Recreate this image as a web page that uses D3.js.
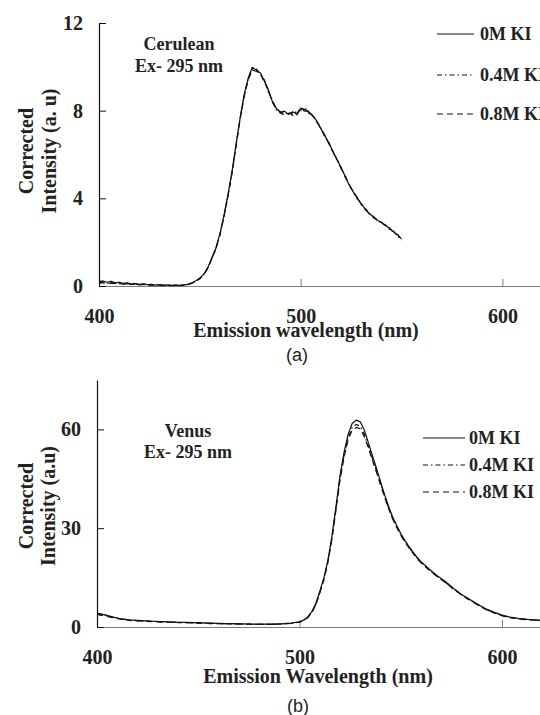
<!DOCTYPE html>
<html>
<head>
<meta charset="utf-8">
<title>KI quenching spectra</title>
<script src="https://d3js.org/d3.v7.min.js"></script>
<style>
  body { margin: 0; background: #fff; }
  svg { display: block; }
  .lbl { font-family: "Liberation Serif", "Times New Roman", serif; font-weight: bold; fill: #222; }
  .cap { font-family: "Liberation Sans", Arial, sans-serif; fill: #222; }
</style>
</head>
<body>
<svg width="540" height="715"></svg>
<script>
// ---- data ----
const seriesNames = ['0M KI', '0.4M KI', '0.8M KI'];
const xTicks = [400, 500, 600];

// (a) Cerulean, 400-550 nm
const wlCerulean = [400,402,404,406,408,410,412,414,416,418,
  420,422,424,426,428,430,432,434,436,438,
  440,442,444,446,448,450,452,454,456,458,
  460,462,464,466,468,470,472,474,476,478,
  480,482,484,486,488,490,492,494,496,498,
  500,502,504,506,508,510,512,514,516,518,
  520,522,524,526,528,530,532,534,536,538,
  540,542,544,546,548,550];
const cer0 = [0.20,0.23,0.17,0.21,0.14,0.17,0.12,0.14,0.09,0.11,
  0.08,0.10,0.06,0.07,0.04,0.06,0.03,0.05,0.03,0.04,
  0.03,0.05,0.08,0.14,0.24,0.36,0.55,0.85,1.30,1.75,
  2.40,3.25,4.20,5.25,6.50,7.70,8.75,9.50,9.98,9.85,
  9.72,9.35,8.95,8.40,8.10,7.92,7.98,7.82,7.95,7.85,
  8.12,8.05,7.95,7.78,7.52,7.18,6.85,6.52,6.12,5.78,
  5.40,5.02,4.62,4.30,4.02,3.75,3.52,3.30,3.16,3.00,
  2.90,2.76,2.63,2.47,2.33,2.15];
const cer04 = [0.15,0.18,0.13,0.16,0.12,0.13,0.10,0.11,0.08,0.09,
  0.06,0.08,0.05,0.06,0.04,0.05,0.03,0.04,0.02,0.03,
  0.03,0.04,0.07,0.13,0.22,0.34,0.53,0.83,1.27,1.72,
  2.36,3.20,4.15,5.20,6.45,7.65,8.70,9.45,9.90,9.92,
  9.65,9.40,8.85,8.48,8.02,7.88,7.80,7.95,7.78,7.98,
  8.02,8.15,7.88,7.80,7.48,7.20,6.80,6.55,6.08,5.80,
  5.36,5.05,4.58,4.33,3.98,3.78,3.48,3.33,3.12,3.03,
  2.86,2.79,2.58,2.50,2.28,2.10];
const cer08 = [0.12,0.15,0.11,0.13,0.10,0.11,0.08,0.09,0.07,0.08,
  0.05,0.07,0.04,0.05,0.03,0.04,0.02,0.03,0.02,0.03,
  0.02,0.04,0.06,0.12,0.21,0.33,0.52,0.82,1.25,1.70,
  2.35,3.18,4.12,5.18,6.42,7.62,8.66,9.42,9.85,9.80,
  9.68,9.30,8.90,8.38,8.06,7.95,7.85,7.88,7.90,7.80,
  8.08,7.98,7.98,7.74,7.55,7.15,6.88,6.48,6.15,5.75,
  5.42,4.98,4.65,4.27,4.05,3.72,3.55,3.28,3.18,2.98,
  2.92,2.74,2.65,2.44,2.35,2.12];
const cerYTicks = [0, 4, 8, 12];

// (b) Venus, 400-620 nm
const wlVenus = [400,404,408,412,416,420,424,428,432,436,440,444,448,452,456,460,464,468,472,476,480,484,488,492,496,
  500,502,504,506,508,510,512,514,516,518,520,522,524,526,528,530,532,534,536,538,540,542,544,546,548,550,552,554,556,558,560,
  564,568,572,576,580,584,588,592,596,600,604,608,612,616,620];
const ven0 = [4.2,3.7,3.0,2.5,2.2,2.0,1.85,1.75,1.65,1.55,1.45,1.4,1.3,1.25,1.15,1.1,1.05,1.0,0.95,0.9,0.85,0.85,0.9,1.0,1.2,
  1.6,2.1,3.0,4.6,7.0,10.8,14.8,20.2,27.5,36.5,46.0,53.0,58.5,61.8,62.8,62.3,59.8,56.0,52.0,48.2,44.2,40.2,36.6,33.4,30.8,28.4,26.3,24.5,22.8,21.2,19.8,
  17.6,15.6,13.8,11.8,9.9,8.4,6.9,5.5,4.5,3.6,3.0,2.6,2.35,2.15,2.0];
const ven04 = [4.0,3.5,2.9,2.4,2.1,1.9,1.8,1.7,1.6,1.5,1.4,1.35,1.25,1.2,1.1,1.05,1.0,0.95,0.9,0.85,0.8,0.8,0.85,0.95,1.15,
  1.5,2.0,2.9,4.4,6.8,10.5,14.5,19.8,27.0,36.0,45.2,52.2,57.5,60.6,61.5,61.0,58.6,55.0,51.2,47.5,43.6,39.8,36.2,33.0,30.5,28.1,26.0,24.3,22.6,21.0,19.6,
  17.4,15.4,13.6,11.6,9.8,8.2,6.8,5.4,4.4,3.5,2.9,2.5,2.3,2.1,1.95];
const ven08 = [3.8,3.3,2.8,2.3,2.0,1.85,1.7,1.6,1.5,1.45,1.35,1.3,1.2,1.15,1.05,1.0,0.95,0.9,0.85,0.8,0.8,0.78,0.82,0.92,1.1,
  1.45,1.9,2.8,4.3,6.6,10.2,14.2,19.5,26.6,35.4,44.6,51.5,56.8,59.8,60.6,60.2,57.8,54.4,50.6,47.0,43.2,39.5,35.9,32.8,30.2,27.9,25.8,24.1,22.4,20.8,19.5,
  17.3,15.3,13.5,11.5,9.7,8.1,6.7,5.3,4.3,3.4,2.85,2.45,2.25,2.05,1.9];
const venYTicks = [0, 30, 60];

// ---- drawing ----
const svg = d3.select('svg');
const dashes = [null, '5,3,1.5,3', '6,4'];

function panel(o) {
  const g = svg.append('g');
  const x = d3.scaleLinear().domain([400, 620]).range([o.x0, o.x0 + 220 * o.pxPerNm]);
  const y = d3.scaleLinear().domain(o.yDomain).range([o.yBottom, o.yTop]);

  // x axis (grey)
  const xa = g.append('g').attr('transform', 'translate(0,' + o.yBottom + ')')
    .call(d3.axisBottom(x).tickValues(xTicks).tickSize(-7).tickSizeOuter(0).tickPadding(23));
  xa.select('.domain').attr('stroke', '#7a7a7a').attr('stroke-width', 1.2);
  xa.selectAll('.tick line').attr('stroke', '#7a7a7a');
  xa.selectAll('text').attr('class', 'lbl').attr('font-size', 20).attr('fill', '#222');

  // y axis
  const ya = g.append('g').attr('transform', 'translate(' + o.x0 + ',0)')
    .call(d3.axisLeft(y).tickValues(o.yTicks).tickSize(-7).tickSizeOuter(0).tickPadding(16));
  ya.select('.domain').attr('stroke', '#111').attr('stroke-width', 1.2);
  ya.selectAll('.tick line').attr('stroke', '#111');
  ya.selectAll('text').attr('class', 'lbl').attr('font-size', 20).attr('fill', '#222');

  // curves
  const line = d3.line().x(d => x(d[0])).y(d => y(d[1]));
  o.series.forEach((s, i) => {
    g.append('path').datum(o.wl.map((w, k) => [w, s[k]]))
      .attr('d', line).attr('fill', 'none').attr('stroke', '#111')
      .attr('stroke-width', 1.2).attr('stroke-linejoin', 'round')
      .attr('stroke-dasharray', dashes[i]);
  });

  // y title
  const yt = g.append('g').attr('class', 'lbl').attr('font-size', 20).attr('text-anchor', 'middle');
  yt.append('text').attr('transform', 'translate(' + o.ytX[0] + ',' + o.ytY + ') rotate(-90)').text('Corrected');
  yt.append('text').attr('transform', 'translate(' + o.ytX[1] + ',' + o.ytY + ') rotate(-90)').text(o.yTitle);

  // x title + caption
  g.append('text').attr('class', 'lbl').attr('font-size', 20).attr('text-anchor', 'middle')
    .attr('x', o.xtX).attr('y', o.xtY).text(o.xTitle);
  g.append('text').attr('class', 'cap').attr('font-size', 18).attr('text-anchor', 'middle')
    .attr('x', o.capX).attr('y', o.capY).text(o.cap);

  // protein annotation
  o.note.forEach((t, i) => {
    g.append('text').attr('class', 'lbl').attr('font-size', 18).attr('text-anchor', 'middle')
      .attr('x', o.noteX).attr('y', o.noteY[i]).text(t);
  });

  // legend
  seriesNames.forEach((n, i) => {
    g.append('line').attr('x1', o.legX[0]).attr('x2', o.legX[1])
      .attr('y1', o.legY[i]).attr('y2', o.legY[i])
      .attr('stroke', '#111').attr('stroke-width', 1.2).attr('stroke-dasharray', dashes[i]);
    g.append('text').attr('class', 'lbl').attr('font-size', 18)
      .attr('x', o.legX[2]).attr('y', o.legY[i] + 6).text(n);
  });
}

panel({
  wl: wlCerulean, series: [cer0, cer04, cer08],
  x0: 99, pxPerNm: 2.017, yDomain: [0, 12], yTop: 23, yBottom: 286, yTicks: cerYTicks,
  yTitle: 'Intensity (a. u)', ytX: [33, 56], ytY: 151,
  xTitle: 'Emission wavelength (nm)', xtX: 306, xtY: 337,
  cap: '(a)', capX: 297, capY: 361,
  note: ['Cerulean', 'Ex- 295 nm'], noteX: 179, noteY: [50, 72],
  legX: [437, 474, 480], legY: [34, 75, 114]
});

panel({
  wl: wlVenus, series: [ven0, ven04, ven08],
  x0: 97, pxPerNm: 2.025, yDomain: [0, 75], yTop: 380, yBottom: 627, yTicks: venYTicks,
  yTitle: 'Intensity (a.u)', ytX: [33, 55], ytY: 506,
  xTitle: 'Emission Wavelength (nm)', xtX: 318, xtY: 683,
  cap: '(b)', capX: 298, capY: 712,
  note: ['Venus', 'Ex- 295 nm'], noteX: 188, noteY: [437, 458],
  legX: [423, 465, 469], legY: [438, 465, 492]
});
</script>
</body>
</html>
